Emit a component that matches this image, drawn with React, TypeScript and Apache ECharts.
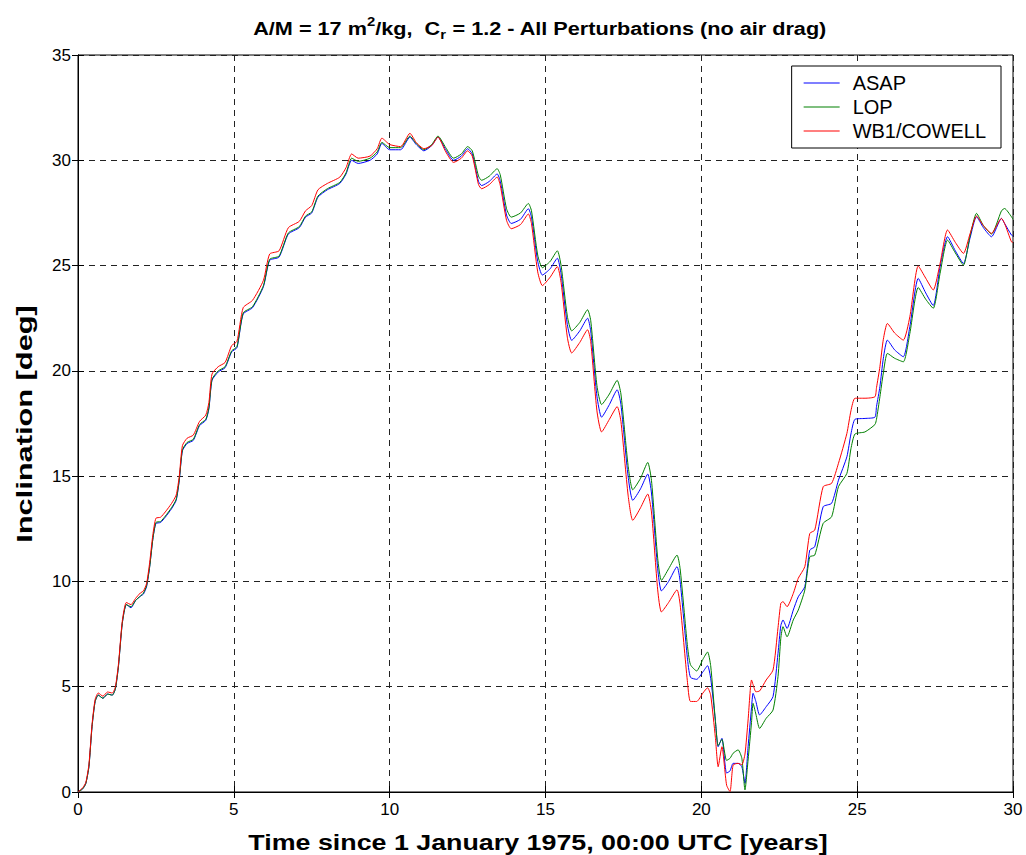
import React, { useEffect, useRef } from "react";
import * as echarts from "echarts";

// Time since 1 January 1975 [years]
const years = [
  0.0, 0.15, 0.25, 0.35, 0.45, 0.55, 0.65, 0.8, 0.95, 1.1, 1.2, 1.3, 1.42, 1.55, 1.7, 1.85,
  2.0, 2.1, 2.2, 2.3, 2.4, 2.5, 2.65, 2.8, 3.0, 3.15, 3.25, 3.35, 3.5, 3.7, 3.9, 4.1, 4.2, 4.3,
  4.5, 4.72, 4.93, 5.1, 5.3, 5.6, 5.95, 6.15, 6.45, 6.75, 7.1, 7.3, 7.5, 7.7, 8.0, 8.4, 8.6,
  8.78, 8.99, 9.37, 9.6, 9.75, 10.0, 10.35, 10.65, 10.85, 11.1, 11.35, 11.55, 11.8, 12.05, 12.3,
  12.5, 12.65, 12.85, 12.95, 13.2, 13.45, 13.55, 13.75, 13.9, 14.2, 14.45, 14.55, 14.75, 14.9,
  15.15, 15.38, 15.5, 15.7, 15.84, 16.1, 16.35, 16.45, 16.65, 16.8, 17.05, 17.3, 17.42, 17.65,
  17.8, 18.05, 18.28, 18.4, 18.6, 18.72, 18.95, 19.22, 19.32, 19.55, 19.65, 19.85, 20.05, 20.2,
  20.3, 20.45, 20.54, 20.66, 20.81, 20.92, 21.02, 21.18, 21.3, 21.4, 21.5, 21.61, 21.66, 21.75,
  21.87, 22.08, 22.3, 22.46, 22.55, 22.62, 22.75, 22.95, 23.11, 23.32, 23.48, 23.64, 23.91,
  24.18, 24.4, 24.67, 24.8, 24.93, 25.25, 25.57, 25.62, 25.73, 25.84, 25.97, 26.2, 26.48, 26.69,
  26.96, 27.2, 27.44, 27.66, 27.9, 28.15, 28.41, 28.62, 28.83, 29.05, 29.31, 29.63, 29.73, 29.95,
  30.0,
];

// Inclination [deg]
const asap = [
  0, 0.15, 0.4, 1.2, 3.1, 4.3, 4.6, 4.45, 4.65, 4.6, 4.9, 6.0, 8.0, 8.9, 8.75, 9.1,
  9.3, 9.4, 9.75, 10.7, 12.0, 12.75, 12.8, 13.05, 13.45, 13.85, 14.8, 16.2, 16.55, 16.7, 17.4, 17.65, 18.2, 19.55,
  19.95, 20.15, 20.9, 21.1, 22.7, 23.0, 24.0, 25.25, 25.4, 26.5, 26.8, 27.3, 27.5, 28.25, 28.6, 28.9, 29.35,
  30.0, 29.85, 30.0, 30.3, 30.8, 30.5, 30.5, 31.1, 30.75, 30.45, 30.7, 31.1, 30.5, 30.0, 30.2,
  30.55, 30.3, 29.0, 28.8, 29.0, 29.35, 29.0, 27.4, 27.0, 27.2, 27.7, 27.3, 25.2, 24.55,
  24.85, 25.35, 24.6, 22.2, 21.45, 21.9, 22.5, 21.9, 18.8, 17.8, 18.4, 19.1, 18.4, 15.0,
  13.85, 14.4, 15.1, 14.2, 10.6, 9.55, 10.0, 10.7, 10.0, 6.4, 5.45, 5.35, 5.7, 6.0,
  5.4, 3.4, 2.15, 2.55, 0.9, 1.0, 1.36, 1.36, 1.2, 0.41, 2.15, 4.0, 4.69, 4.3,
  3.66, 4.05, 4.53, 6.58, 7.9, 8.17, 7.77, 8.64, 9.27, 9.75, 11.49, 11.65, 13.55,
  13.71, 14.81, 15.92, 17.0, 17.7, 17.74, 17.8, 18.3, 19.25, 20.6, 21.46, 21.0, 20.67, 22.1,
  24.39, 23.7, 23.1, 24.94, 26.37, 25.7, 25.1, 26.3, 27.32, 26.8, 26.37, 27.24, 27.0, 26.45,
  26.4,
];

const lop = [
  0, 0.15, 0.4, 1.2, 3.1, 4.3, 4.6, 4.45, 4.65, 4.6, 4.9, 6.0, 8.0, 8.9, 8.8, 9.1,
  9.3, 9.45, 9.8, 10.7, 12.0, 12.8, 12.85, 13.1, 13.5, 13.9, 14.85, 16.25, 16.6, 16.75, 17.45, 17.7, 18.25, 19.6,
  20.0, 20.2, 20.95, 21.15, 22.75, 23.05, 24.05, 25.3, 25.45, 26.55, 26.85, 27.35, 27.55, 28.3, 28.65, 28.95, 29.4,
  30.1, 29.95, 30.1, 30.4, 30.85, 30.6, 30.6, 31.15, 30.8, 30.5, 30.75, 31.15, 30.6, 30.1, 30.3,
  30.65, 30.45, 29.25, 29.05, 29.25, 29.6, 29.3, 27.7, 27.3, 27.5, 27.95, 27.6, 25.5, 24.9,
  25.2, 25.7, 25.0, 22.6, 21.9, 22.3, 22.9, 22.4, 19.3, 18.4, 18.9, 19.55, 18.9, 15.5,
  14.35, 14.9, 15.65, 14.8, 11.1, 10.05, 10.6, 11.25, 10.6, 7.0, 6.05, 5.75, 6.3, 6.65,
  6.0, 3.4, 2.2, 2.5, 1.5, 1.6, 1.84, 2.0, 1.6, 0.1, 1.52, 3.3, 4.21, 3.7,
  3.02, 3.5, 3.89, 5.48, 7.3, 7.85, 7.37, 8.17, 8.64, 9.59, 11.17, 11.25, 12.76,
  13.07, 14.5, 15.13, 16.3, 17.0, 17.1, 17.45, 17.7, 18.77, 19.9, 20.83, 20.6, 20.43, 21.78,
  23.96, 23.4, 22.97, 24.63, 26.21, 25.6, 25.02, 26.4, 27.48, 26.9, 26.5, 27.6, 27.71, 27.32,
  27.2,
];

const wb1 = [
  0, 0.2, 0.45, 1.3, 3.2, 4.4, 4.7, 4.55, 4.75, 4.7, 5.0, 6.1, 8.1, 9.0, 8.9, 9.2,
  9.45, 9.55, 9.9, 10.9, 12.2, 13.0, 13.05, 13.3, 13.7, 14.1, 15.0, 16.45, 16.8, 16.95, 17.6, 17.9, 18.5, 19.85,
  20.2, 20.4, 21.2, 21.4, 23.0, 23.35, 24.3, 25.55, 25.7, 26.8, 27.1, 27.6, 27.85, 28.6, 28.9, 29.2, 29.65,
  30.3, 30.1, 30.2, 30.55, 31.05, 30.75, 30.65, 31.28, 30.85, 30.55, 30.7, 31.1, 30.4, 29.9, 30.1,
  30.45, 30.2, 28.85, 28.65, 28.85, 29.2, 28.8, 27.15, 26.75, 26.95, 27.45, 27.0, 24.7, 24.05,
  24.45, 24.95, 24.2, 21.6, 20.85, 21.35, 21.95, 21.4, 18.1, 17.1, 17.7, 18.3, 17.6, 14.1,
  12.9, 13.5, 14.15, 13.3, 9.6, 8.55, 9.0, 9.6, 8.9, 5.3, 4.3, 4.3, 4.7, 4.95,
  4.6, 2.6, 1.2, 2.15, 0.33, 0.02, 1.28, 1.36, 1.3, 1.8, 3.42, 5.32, 5.1, 4.76,
  4.8, 5.32, 5.79, 7.8, 8.96, 9.04, 8.8, 9.43, 10.15, 10.7, 12.28, 12.44, 14.5,
  14.66, 15.61, 17.03, 18.1, 18.7, 18.7, 18.77, 19.2, 20.2, 21.5, 22.25, 21.8, 21.46, 22.57,
  24.98, 24.4, 23.84, 25.1, 26.69, 26.1, 25.58, 26.5, 27.35, 26.9, 26.53, 27.24, 27.0, 26.13,
  26.1,
];

const xTicks = [0, 5, 10, 15, 20, 25, 30];
const yTicks = [0, 5, 10, 15, 20, 25, 30, 35];

const seriesNames = ["ASAP", "LOP", "WB1/COWELL"];
const seriesColors = ["#0000ff", "#008000", "#ff0000"];

const titleText = "{a|A/M = 17 m}{sup|2}{a|/kg,  C}{sub|r}{a| = 1.2 - All Perturbations (no air drag)}";
const xName = "Time since 1 January 1975, 00:00 UTC [years]";
const yName = "Inclination [deg]";

const FONT = "'Liberation Sans', Arial, Helvetica, sans-serif";

export default function App() {
  const ref = useRef<HTMLDivElement>(null);

  useEffect(() => {
    if (!ref.current) return;
    const chart = echarts.init(ref.current, undefined, { renderer: "svg" });
    const valueSets = [asap, lop, wb1];
    const series = valueSets.map((vals, i) => ({
      name: seriesNames[i],
      type: "line",
      data: years.map((t, k) => [t, vals[k]]),
      symbol: "none",
      smooth: 0.2,
      lineStyle: { color: seriesColors[i], width: 1 },
      itemStyle: { color: seriesColors[i] },
      z: 3 + i,
    }));

    const gridLine = { show: true, lineStyle: { color: "#222", width: 1, type: [6, 5] as any } };
    const richBase = { fontFamily: FONT, fontWeight: "bold", color: "#000" };

    chart.setOption({
      animation: false,
      backgroundColor: "#ffffff",
      textStyle: { fontFamily: FONT },
      graphic: [
        {
          type: "text",
          x: 540,
          y: 28,
          scaleX: 1.14,
          style: {
            text: titleText,
            align: "center",
            verticalAlign: "middle",
            rich: {
              a: { ...richBase, fontSize: 19, lineHeight: 26 },
              sup: { ...richBase, fontSize: 13, lineHeight: 26, verticalAlign: "top", padding: [0, 0, 12, 0] },
              sub: { ...richBase, fontSize: 13, lineHeight: 26, verticalAlign: "bottom", padding: [12, 0, 0, 0] },
            },
          },
        },
        {
          type: "text",
          x: 538,
          y: 842,
          scaleX: 1.22,
          style: {
            text: xName,
            align: "center",
            verticalAlign: "middle",
            fontFamily: FONT,
            fontWeight: "bold",
            fontSize: 22,
            fill: "#000",
          },
        },
        {
          type: "text",
          x: 25,
          y: 424,
          rotation: Math.PI / 2,
          scaleX: 1.4,
          style: {
            text: yName,
            align: "center",
            verticalAlign: "middle",
            fontFamily: FONT,
            fontWeight: "bold",
            fontSize: 22,
            fill: "#000",
          },
        },
      ],
      legend: {
        data: seriesNames,
        orient: "vertical",
        right: 25,
        top: 66,
        backgroundColor: "#ffffff",
        borderColor: "#000",
        borderWidth: 1,
        borderRadius: 0,
        padding: [7, 15, 7, 12],
        itemGap: 4,
        itemWidth: 36,
        itemHeight: 1,
        icon: "rect",
        textStyle: { fontFamily: FONT, fontSize: 20, lineHeight: 20, color: "#000", padding: [0, 0, 0, 8] },
      },
      grid: {
        left: 78,
        right: 13,
        top: 55,
        bottom: 63,
        show: true,
        borderColor: "#000",
        borderWidth: 1,
        backgroundColor: "#fff",
      },
      xAxis: [
        {
          type: "value",
          min: 0,
          max: 30,
          interval: 5,
          axisLine: { show: true, lineStyle: { color: "#000", width: 1 } },
          axisTick: { show: true, inside: true, length: 6, lineStyle: { color: "#000" } },
          axisLabel: { fontFamily: FONT, fontSize: 17, color: "#000", margin: 9, customValues: xTicks },
          splitLine: gridLine,
        },
        {
          type: "value",
          position: "top",
          min: 0,
          max: 30,
          interval: 5,
          axisLine: { show: true, lineStyle: { color: "#000", width: 1 } },
          axisTick: { show: true, inside: true, length: 6, lineStyle: { color: "#000" } },
          axisLabel: { show: false },
          splitLine: { show: false },
        },
      ],
      yAxis: [
        {
          type: "value",
          min: 0,
          max: 35,
          interval: 5,
          axisLine: { show: true, lineStyle: { color: "#000", width: 1 } },
          axisTick: { show: true, inside: true, length: 6, lineStyle: { color: "#000" } },
          axisLabel: { fontFamily: FONT, fontSize: 17, color: "#000", margin: 7, customValues: yTicks },
          splitLine: gridLine,
        },
        {
          type: "value",
          position: "right",
          min: 0,
          max: 35,
          interval: 5,
          axisLine: { show: true, lineStyle: { color: "#000", width: 1 } },
          axisTick: { show: true, inside: true, length: 6, lineStyle: { color: "#000" } },
          axisLabel: { show: false },
          splitLine: { show: false },
        },
      ],
      series,
    });

    return () => chart.dispose();
  }, []);

  return (
    <div
      ref={ref}
      style={{ position: "fixed", left: 0, top: 0, width: 1026, height: 855, background: "#fff" }}
    />
  );
}
